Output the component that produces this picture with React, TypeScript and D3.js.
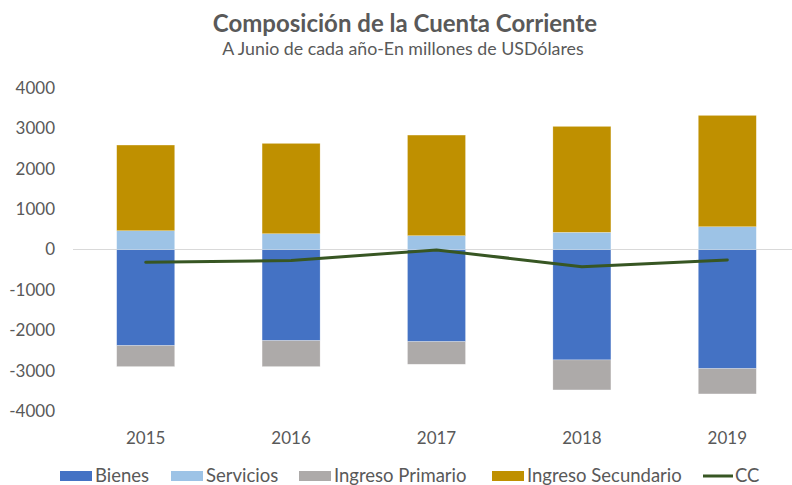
import React from "react";
import * as d3 from "d3";

const years = ["2015", "2016", "2017", "2018", "2019"];
const bienes = [-2380, -2257, -2282, -2735, -2950];
const servicios = [465, 391, 342, 426, 564];
const ingresoPrimario = [-520, -643, -560, -743, -627];
const ingresoSecundario = [2122, 2237, 2492, 2623, 2757];
const cc = [-315, -272, -10, -425, -258];
const yTicks = [4000, 3000, 2000, 1000, 0, -1000, -2000, -3000, -4000];

const seriesNames = ["Bienes", "Servicios", "Ingreso Primario", "Ingreso Secundario"];
const seriesColors = ["#4472C4", "#9DC3E6", "#ADAAA9", "#BF9000"];
const ccColor = "#375623";

const W = 792, H = 485;
const FONT = "Lato, 'Open Sans', sans-serif";

export default function App() {
  const x = d3.scaleBand<string>().domain(years).range([73, 800]).paddingInner(0.6).paddingOuter(0.3);
  const y = d3.scaleLinear().domain([-4000, 4000]).range([411, 88]);

  const rows = years.map((yr, i) => ({
    year: yr,
    "Bienes": bienes[i],
    "Servicios": servicios[i],
    "Ingreso Primario": ingresoPrimario[i],
    "Ingreso Secundario": ingresoSecundario[i],
  }));
  const stack = d3.stack<any>().keys(seriesNames).offset(d3.stackOffsetDiverging);
  const layers = stack(rows);

  const bw = 58;
  const cx = (yr: string) => (x(yr) as number) + x.bandwidth() / 2;

  const line = d3.line<number>().x((_, i) => cx(years[i])).y((d) => y(d));

  const legend = [
    { label: "Bienes", color: seriesColors[0], x: 60, type: "rect" },
    { label: "Servicios", color: seriesColors[1], x: 171, type: "rect" },
    { label: "Ingreso Primario", color: seriesColors[2], x: 299, type: "rect" },
    { label: "Ingreso Secundario", color: seriesColors[3], x: 492, type: "rect" },
    { label: "CC", color: ccColor, x: 703, type: "line" },
  ];

  return (
    <svg width={W} height={H} style={{ position: "absolute", left: 0, top: 0, background: "#fff" }} fontFamily={FONT}>
      <rect width={W} height={H} fill="#fff" />
      <text x={405} y={32} textAnchor="middle" fontSize={24} fontWeight="bold" fill="#595959">
        Composición de la Cuenta Corriente
      </text>
      <text x={403} y={55} textAnchor="middle" fontSize={17.8} fill="#595959">
        A Junio de cada año-En millones de USDólares
      </text>
      {yTicks.map((t) => (
        <text key={t} x={55} y={y(t)} dy="0.35em" textAnchor="end" fontSize={17} fill="#595959">
          {t}
        </text>
      ))}
      <line x1={73} x2={792} y1={y(0)} y2={y(0)} stroke="#D9D9D9" strokeWidth={1.2} />
      {layers.map((layer, li) => (
        <g key={layer.key} fill={seriesColors[li]}>
          {layer.map((d, i) => (
            <rect
              key={i}
              x={cx(years[i]) - bw / 2}
              y={y(Math.max(d[0], d[1]))}
              width={bw}
              height={Math.abs(y(d[0]) - y(d[1]))}
              stroke="#fff"
              strokeOpacity={0.4}
              strokeWidth={0.6}
            />
          ))}
        </g>
      ))}
      <path d={line(cc) || ""} fill="none" stroke={ccColor} strokeWidth={3} strokeLinejoin="round" strokeLinecap="round" />
      {years.map((yr) => (
        <text key={yr} x={cx(yr)} y={444} textAnchor="middle" fontSize={17} fill="#595959">
          {yr}
        </text>
      ))}
      {legend.map((l) => (
        <g key={l.label}>
          {l.type === "rect" ? (
            <rect x={l.x} y={471} width={32} height={10} fill={l.color} />
          ) : (
            <line x1={l.x} x2={l.x + 30} y1={476} y2={476} stroke={l.color} strokeWidth={3} />
          )}
          <text x={l.x + (l.type === "rect" ? 35 : 32)} y={482} fontSize={18.5} fill="#595959">
            {l.label}
          </text>
        </g>
      ))}
    </svg>
  );
}
